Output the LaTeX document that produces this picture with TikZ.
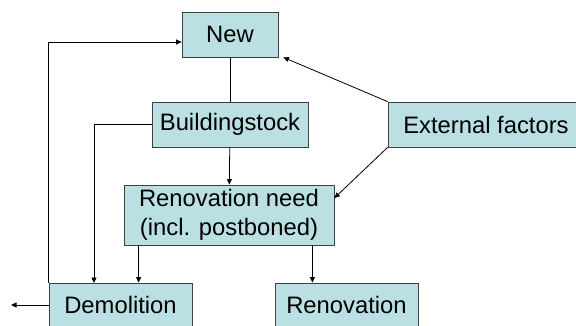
\documentclass[tikz,border=0pt]{standalone}
\usepackage{fontspec}
\setmainfont{Liberation Sans}
\usepackage{xcolor}
\usetikzlibrary{arrows.meta,positioning,calc}
\definecolor{cBox}{HTML}{BBE0E3}
\definecolor{cLine}{HTML}{404040}
\tikzset{
  box/.style={draw=cLine,fill=cBox,line width=0.8pt,inner sep=0pt,
              align=center,font=\fontsize{23.8}{28.5}\selectfont},
  flow/.style={-{Triangle[length=5.5pt,width=5pt]},line width=0.8pt,black},
  link/.style={line width=0.8pt,black},
}

\begin{document}
\begin{tikzpicture}[x=1pt,y=-1pt]
  \useasboundingbox (0,0) rectangle (576,325);
  \clip (0,0) rectangle (576,325);
  \node[box,minimum width=96pt,minimum height=45pt] (new) at (230,34.5) {New};
  \node[box,minimum width=156pt,minimum height=45pt] (bs) at (230,124.5) {Buildingstock};
  \node[box,minimum width=196pt,minimum height=45pt] (ext) at (486,124.5) {External factors};
  \node[box,minimum width=210pt,minimum height=60pt] (rn) at (229,215)
     {Renovation need\\(incl. postboned)};
  \node[box,minimum width=143pt,minimum height=44pt] (demol) at (120.5,305) {Demolition};
  \node[box,minimum width=143pt,minimum height=44pt] (renov) at (346.5,305) {Renovation};
  \coordinate (d1) at (94,283);
  \coordinate (out) at (11,305);
  \draw[link](new)--(bs);
  \draw[flow](bs)--(rn);
  \draw[flow](bs.west)-|(d1);
  \draw[flow]([xshift=15pt]rn.south west)--([xshift=15pt]rn.south west |- demol.north);
  \draw[flow]([xshift=-22pt]rn.south east)--([xshift=-22pt]rn.south east |- renov.north);
  \draw[flow](demol.north west)|-([yshift=-7.5pt]new.west);
  \draw[flow](demol.west)--(out);
  \draw[flow](ext.north west)--([xshift=5pt]new.south east);
  \draw[flow](ext.south west)--([yshift=17pt]rn.east);
\end{tikzpicture}
\end{document}
